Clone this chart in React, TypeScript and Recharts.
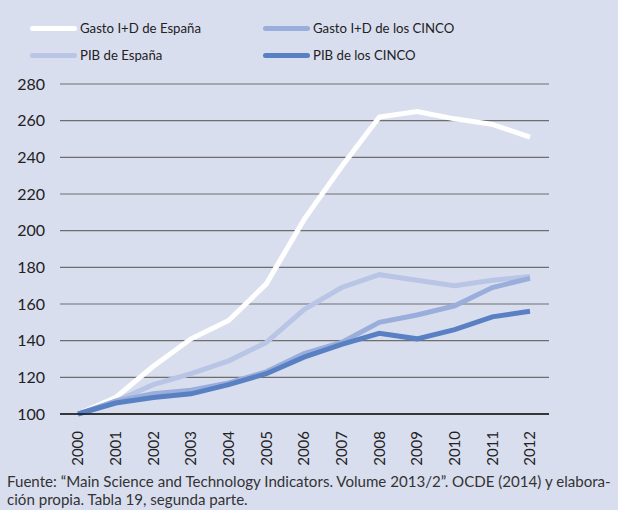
import { LineChart, Line, XAxis, YAxis, CartesianGrid } from 'recharts';

const years = ['2000', '2001', '2002', '2003', '2004', '2005', '2006', '2007', '2008', '2009', '2010', '2011', '2012'];
const gastoEspana = [100, 109, 126, 141, 151, 171, 206, 235, 262, 265, 261, 258, 251];
const gastoCinco = [100, 107, 111, 113, 117, 123, 133, 139, 150, 154, 159, 169, 174];
const pibEspana = [100, 107, 116, 122, 129, 139, 157, 169, 176, 173, 170, 173, 175];
const pibCinco = [100, 106, 109, 111, 116, 122, 131, 138, 144, 141, 146, 153, 156];
const yTicks = [100, 120, 140, 160, 180, 200, 220, 240, 260, 280];

const series = [
  { key: 'gastoEspana', name: 'Gasto I+D de España', color: '#ffffff' },
  { key: 'pibEspana', name: 'PIB de España', color: '#b8c5e5' },
  { key: 'gastoCinco', name: 'Gasto I+D de los CINCO', color: '#9aaedb' },
  { key: 'pibCinco', name: 'PIB de los CINCO', color: '#5a80c4' },
];

const data = years.map((year, i) => ({
  year,
  gastoEspana: gastoEspana[i],
  gastoCinco: gastoCinco[i],
  pibEspana: pibEspana[i],
  pibCinco: pibCinco[i],
}));

const font = 'Lato, "Noto Sans", sans-serif';

// legend placed in a 2x2 grid, same as the source
const legendOrder = ['gastoEspana', 'gastoCinco', 'pibEspana', 'pibCinco'];

const YearTick = (props: any) => {
  const { x, y, payload } = props;
  return (
    <text
      x={x}
      y={y + 9}
      transform={`rotate(-90, ${x}, ${y + 9})`}
      textAnchor="end"
      dy="0.36em"
      fontSize={15}
      fill="#222"
      fontFamily={font}
    >
      {payload.value}
    </text>
  );
};

const App = () => {
  return (
    <div style={{ position: 'absolute', left: 0, top: 0, width: 618, height: 510, background: '#d9deef', fontFamily: font, overflow: 'hidden' }}>
      <div style={{ position: 'absolute', left: 30, top: 20, width: 560 }}>
        {legendOrder.map((k, i) => {
          const s = series.find((d) => d.key === k)!;
          return (
            <div
              key={k}
              style={{
                position: 'absolute',
                left: i % 2 === 0 ? 0 : 233,
                top: i < 2 ? 0 : 27,
                display: 'flex',
                alignItems: 'center',
                fontSize: 13.2,
                color: '#222',
                whiteSpace: 'nowrap',
              }}
            >
              <span style={{ display: 'inline-block', width: 47, height: 5, borderRadius: 3, background: s.color, marginRight: 3 }} />
              {s.name}
            </div>
          );
        })}
      </div>
      <LineChart width={618} height={470} data={data} margin={{ top: 84, right: 69, left: 0, bottom: 6 }}>
        <CartesianGrid vertical={false} stroke="#6e6e6e" strokeWidth={1.2} />
        <XAxis
          dataKey="year"
          padding={{ left: 18, right: 19 }}
          tick={<YearTick />}
          tickLine={false}
          axisLine={{ stroke: '#111', strokeWidth: 1.5 }}
          height={50}
          interval={0}
        />
        <YAxis
          domain={[100, 280]}
          ticks={yTicks}
          width={60}
          tickLine={false}
          axisLine={false}
          tickSize={0}
          tickMargin={15}
          tick={{ fontSize: 16, fill: '#222', fontFamily: font }}
        />
        {series.map((s) => (
          <Line
            key={s.key}
            type="linear"
            dataKey={s.key}
            name={s.name}
            stroke={s.color}
            strokeWidth={5}
            dot={false}
            isAnimationActive={false}
          />
        ))}
      </LineChart>
      <div style={{ position: 'absolute', left: 7, top: 472, width: 612, fontSize: 15.1, lineHeight: '18px', color: '#333', whiteSpace: 'nowrap' }}>
        Fuente: “Main Science and Technology Indicators. Volume 2013/2”. OCDE (2014) y elabora-
        <br />
        ción propia. Tabla 19, segunda parte.
      </div>
    </div>
  );
};

export default App;
